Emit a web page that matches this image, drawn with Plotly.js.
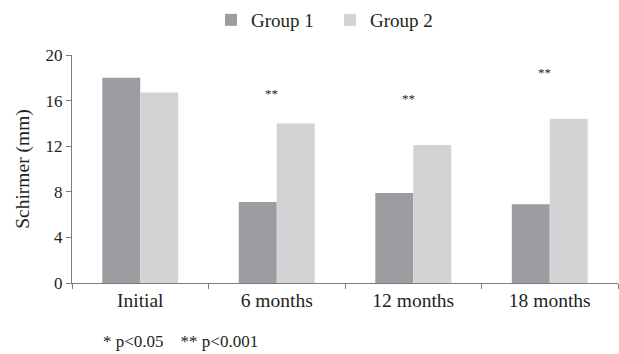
<!DOCTYPE html>
<html>
<head>
<meta charset="utf-8">
<script src="https://cdn.plot.ly/plotly-3.0.1.min.js"></script>
<style>html,body{margin:0;padding:0;background:#fff;}#chart{width:619px;height:354px;}</style>
</head>
<body>
<div id="chart"></div>
<script>
const categories = ["Initial", "6 months", "12 months", "18 months"];
const group1 = [18.0, 7.1, 7.9, 6.9];
const group2 = [16.7, 14.0, 12.1, 14.4];
const sigLabels = ["", "**", "**", "**"];
const sigY = [0, 16.6, 16.2, 18.5];
const yTicks = [0, 4, 8, 12, 16, 20];
const seriesNames = ["Group 1", "Group 2"];
const footnote = "* p<0.05    ** p<0.001";

const FONT = "'Liberation Serif', 'Times New Roman', serif";
const TXT = "#231f20";

const traces = [
  {type: "bar", name: seriesNames[0], x: categories, y: group1, marker: {color: "#9c9da1"}, hoverinfo: "skip"},
  {type: "bar", name: seriesNames[1], x: categories, y: group2, marker: {color: "#d2d3d5"}, hoverinfo: "skip"}
];

const annotations = [];
categories.forEach((c, i) => {
  if (sigLabels[i]) {
    annotations.push({x: c, y: sigY[i], xref: "x", yref: "y", text: sigLabels[i], showarrow: false, xshift: -5,
      font: {family: FONT, size: 13, color: TXT}});
  }
});
annotations.push({x: (101 - 72) / (618 - 72), y: -(341 - 283) / (283 - 55), xref: "paper", yref: "paper",
  text: footnote, showarrow: false, xanchor: "left", yanchor: "middle",
  font: {family: FONT, size: 17, color: TXT}});

const layout = {
  width: 619, height: 354,
  margin: {l: 72, r: 1, t: 55, b: 71, autoexpand: false},
  paper_bgcolor: "#fff", plot_bgcolor: "#fff",
  font: {family: FONT, size: 18, color: TXT},
  barmode: "group", bargap: 0.444, bargroupgap: 0,
  showlegend: true,
  legend: {orientation: "h", x: (211 - 72) / 546, xanchor: "left", y: (283 - 20) / 228, yanchor: "middle",
    font: {family: FONT, size: 19, color: TXT}, tracegroupgap: 0,
    entrywidth: 74, entrywidthmode: "pixels"},
  xaxis: {type: "category", showline: true, linecolor: "#7d7d7d", linewidth: 1,
    ticks: "outside", tickson: "boundaries", ticklen: 5, tickcolor: "#7d7d7d",
    showgrid: false, zeroline: false, tickfont: {family: FONT, size: 19.5, color: TXT}},
  yaxis: {range: [0, 20], tickvals: yTicks, showline: true, linecolor: "#7d7d7d", linewidth: 1,
    ticks: "outside", ticklen: 5, tickcolor: "#7d7d7d", showgrid: false, zeroline: false,
    tickfont: {family: FONT, size: 17, color: TXT},
    title: {text: "Schirmer (mm)", font: {family: FONT, size: 19.5, color: TXT}, standoff: 10}},
  annotations: annotations
};

Plotly.newPlot("chart", traces, layout, {staticPlot: true, displayModeBar: false});
</script>
</body>
</html>
